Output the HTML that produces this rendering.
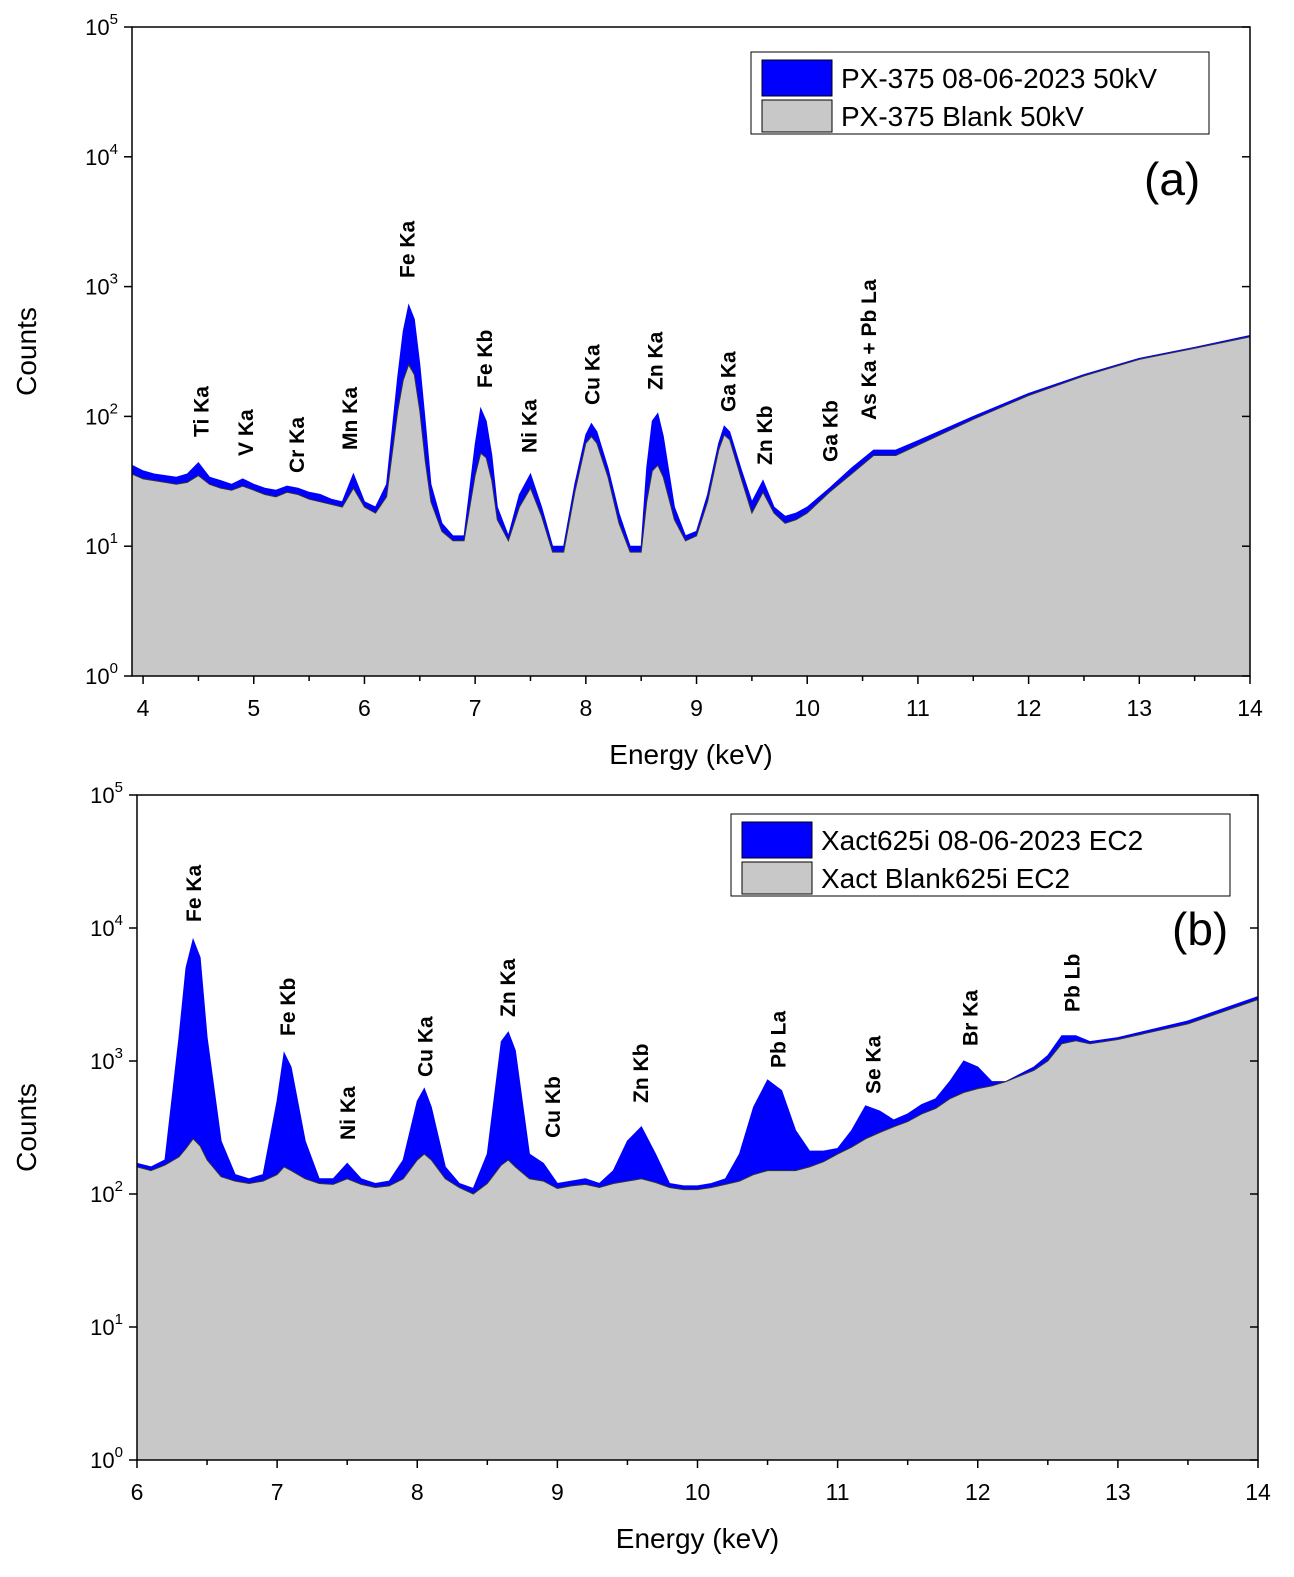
<!DOCTYPE html>
<html><head><meta charset="utf-8"><style>
body{margin:0;background:#fff}
svg{display:block;font-family:"Liberation Sans",sans-serif}
</style></head><body>
<svg id="s" width="1294" height="1577"></svg>
<script>
const energiesA=[3.9,4.0,4.1,4.2,4.3,4.4,4.5,4.6,4.7,4.8,4.9,5.0,5.1,5.2,5.3,5.4,5.5,5.6,5.7,5.8,5.9,6.0,6.1,6.2,6.3,6.35,6.4,6.45,6.5,6.55,6.6,6.7,6.8,6.9,7.0,7.05,7.1,7.15,7.2,7.3,7.4,7.5,7.6,7.7,7.8,7.9,8.0,8.05,8.1,8.2,8.3,8.4,8.5,8.55,8.6,8.65,8.7,8.8,8.9,9.0,9.1,9.2,9.25,9.3,9.4,9.5,9.6,9.7,9.8,9.9,10.0,10.2,10.4,10.6,10.8,11.0,11.5,12.0,12.5,13.0,13.5,14.0];
const sampleA=[42,38,36,35,34,36,44,34,32,30,33,30,28,27,29,28,26,25,23,22,36,22,20,30,200,450,720,560,250,90,30,15,12,12,60,115,92,50,20,12,25,36,20,10,10,30,72,88,76,40,18,10,10,40,92,105,70,20,12,13,25,62,84,76,40,22,32,20,17,18,20,28,40,55,55,65,100,150,210,280,340,420];
const blankA=[36,33,32,31,30,31,35,30,28,27,29,27,25,24,26,25,23,22,21,20,28,20,18,24,110,190,250,210,110,45,22,13,11,11,35,52,48,32,16,11,20,28,17,9,9,26,62,70,62,34,15,9,9,22,38,42,34,16,11,12,22,55,72,66,34,18,26,18,15,16,18,26,36,50,50,60,95,145,205,275,335,410];
const energiesB=[6.0,6.1,6.2,6.3,6.35,6.4,6.45,6.5,6.6,6.7,6.8,6.9,7.0,7.05,7.1,7.2,7.3,7.4,7.5,7.6,7.7,7.8,7.9,8.0,8.05,8.1,8.2,8.3,8.4,8.5,8.6,8.65,8.7,8.8,8.9,9.0,9.1,9.2,9.3,9.4,9.5,9.6,9.7,9.8,9.9,10.0,10.1,10.2,10.3,10.4,10.5,10.6,10.7,10.8,10.9,11.0,11.1,11.2,11.3,11.4,11.5,11.6,11.7,11.8,11.9,12.0,12.1,12.2,12.4,12.5,12.6,12.7,12.8,13.0,13.5,14.0];
const sampleB=[170,160,180,1500,5000,8200,6000,1500,250,140,130,140,500,1150,900,250,130,130,170,130,120,125,180,500,620,450,160,120,110,200,1400,1650,1200,200,170,120,125,130,120,150,250,320,200,120,115,115,120,130,200,450,720,600,300,210,210,220,300,460,420,360,400,470,520,700,1000,900,700,700,900,1100,1550,1550,1400,1500,2000,3050];
const blankB=[160,150,165,190,220,260,230,180,135,125,120,125,140,160,150,130,120,118,130,118,112,115,130,180,200,180,130,112,100,120,165,180,160,130,125,110,115,118,112,120,125,130,122,112,108,108,112,118,125,140,150,150,150,160,175,200,225,260,290,320,350,400,440,520,580,620,650,700,850,1000,1350,1420,1350,1450,1900,2900];
const labelsA=[["Ti Ka",4.52,437],["V Ka",4.92,456],["Cr Ka",5.38,473],["Mn Ka",5.86,450],["Fe Ka",6.38,278],["Fe Kb",7.08,388],["Ni Ka",7.48,453],["Cu Ka",8.05,405],["Zn Ka",8.62,390],["Ga Ka",9.28,412],["Zn Kb",9.61,465],["Ga Kb",10.2,462],["As Ka + Pb La",10.55,420]];
const labelsB=[["Fe Ka",6.4,922],["Fe Kb",7.07,1036],["Ni Ka",7.5,1140],["Cu Ka",8.05,1077],["Zn Ka",8.64,1017],["Cu Kb",8.96,1138],["Zn Kb",9.59,1103],["Pb La",10.57,1068],["Se Ka",11.25,1094],["Br Ka",11.94,1046],["Pb Lb",12.67,1012]];
const NS="http://www.w3.org/2000/svg";
const svg=document.getElementById('s');
function mk(t,a,p){const e=document.createElementNS(NS,t);for(const k in a)e.setAttribute(k,a[k]);(p||svg).appendChild(e);return e;}
function panel(cfg){
  const g=mk('g',{});
  
  
  const X=v=>cfg.x0+(v-cfg.e0)*(cfg.x1-cfg.x0)/(cfg.e1-cfg.e0);
  const Y=v=>cfg.yb-Math.log10(v)*(cfg.yb-cfg.yt)/5;
  function area(vals,fill,stroke,nm){
    let d='M'+X(cfg.en[0])+','+cfg.yb;
    cfg.en.forEach((e,i)=>{d+=' L'+X(e).toFixed(1)+','+Y(vals[i]).toFixed(1);});
    d+=' L'+X(cfg.en[cfg.en.length-1])+','+cfg.yb+' Z';
    const p=mk('path',{d:d,fill:fill,stroke:stroke,'stroke-width':1},g);
    
    
  }
  area(cfg.s,'#0000ff','#0000ff',cfg.name+'-sample-area');
  area(cfg.b,'#c8c8c8','#333',cfg.name+'-blank-area');
  mk('rect',{x:cfg.x0,y:cfg.yt,width:cfg.x1-cfg.x0,height:cfg.yb-cfg.yt,fill:'none',stroke:'#000','stroke-width':1.5},g);
  for(let k=0;k<=5;k++){
    const y=Y(Math.pow(10,k));
    mk('line',{x1:cfg.x0-8,x2:cfg.x0,y1:y,y2:y,stroke:'#000','stroke-width':1.5},g);
    mk('line',{x1:cfg.x1-8,x2:cfg.x1,y1:y,y2:y,stroke:'#000','stroke-width':1.5},g);
    const t=mk('text',{x:cfg.x0-14,y:y+8,'text-anchor':'end','font-size':22},g);
    t.innerHTML='10<tspan dy="-11" font-size="15">'+k+'</tspan>';
    
    
  }
  for(let e=Math.ceil(cfg.e0*2)/2;e<=cfg.e1+1e-9;e+=0.5){
    const x=X(e),maj=Math.abs(e-Math.round(e))<1e-6;
    mk('line',{x1:x,x2:x,y1:cfg.yb,y2:cfg.yb+(maj?8:5),stroke:'#000','stroke-width':1.5},g);
    if(maj){const t=mk('text',{x:x,y:cfg.yb+40,'text-anchor':'middle','font-size':23},g);t.textContent=Math.round(e);
    
    }
  }
  const xt=mk('text',{x:(cfg.x0+cfg.x1)/2,y:cfg.yb+88,'text-anchor':'middle','font-size':28},g);xt.textContent='Energy (keV)';
  
  
  const yc=(cfg.yt+cfg.yb)/2;
  const yt=mk('text',{x:36,y:yc,'text-anchor':'middle','font-size':28,transform:'rotate(-90 36 '+yc+')'},g);yt.textContent='Counts';
  
  
  cfg.labels.forEach(l=>{const x=X(l[1])+8;const t=mk('text',{x:x,y:l[2],'font-size':21,'font-weight':'bold',transform:'rotate(-90 '+x+' '+l[2]+')'},g);t.textContent=l[0];
    
    });
  const L=cfg.leg;
  const lg=mk('g',{},g);
  
  
  mk('rect',{x:L[0],y:L[1],width:L[2],height:82,fill:'#fff',stroke:'#000','stroke-width':1},lg);
  mk('rect',{x:L[0]+11,y:L[1]+8,width:70,height:36,fill:'#0000ff',stroke:'#000'},lg);
  mk('rect',{x:L[0]+11,y:L[1]+48,width:70,height:32,fill:'#c8c8c8',stroke:'#000'},lg);
  const t1=mk('text',{x:L[0]+90,y:L[1]+36,'font-size':28},lg);t1.textContent=cfg.l1;
  
  
  const t2=mk('text',{x:L[0]+90,y:L[1]+74,'font-size':28},lg);t2.textContent=cfg.l2;
  
  
  const pl=mk('text',{x:cfg.pl[0],y:cfg.pl[1],'font-size':46},g);pl.textContent=cfg.plt;
  
  
}
panel({name:'panel-a',x0:132,x1:1250,e0:3.9,e1:14,yt:27,yb:676,en:energiesA,s:sampleA,b:blankA,labels:labelsA,leg:[751,52,458],l1:'PX-375 08-06-2023 50kV',l2:'PX-375 Blank 50kV',pl:[1144,195],plt:'(a)'});
panel({name:'panel-b',x0:137,x1:1258,e0:6,e1:14,yt:795,yb:1460,en:energiesB,s:sampleB,b:blankB,labels:labelsB,leg:[731,814,499],l1:'Xact625i 08-06-2023 EC2',l2:'Xact Blank625i EC2',pl:[1172,945],plt:'(b)'});
</script>
</body></html>
